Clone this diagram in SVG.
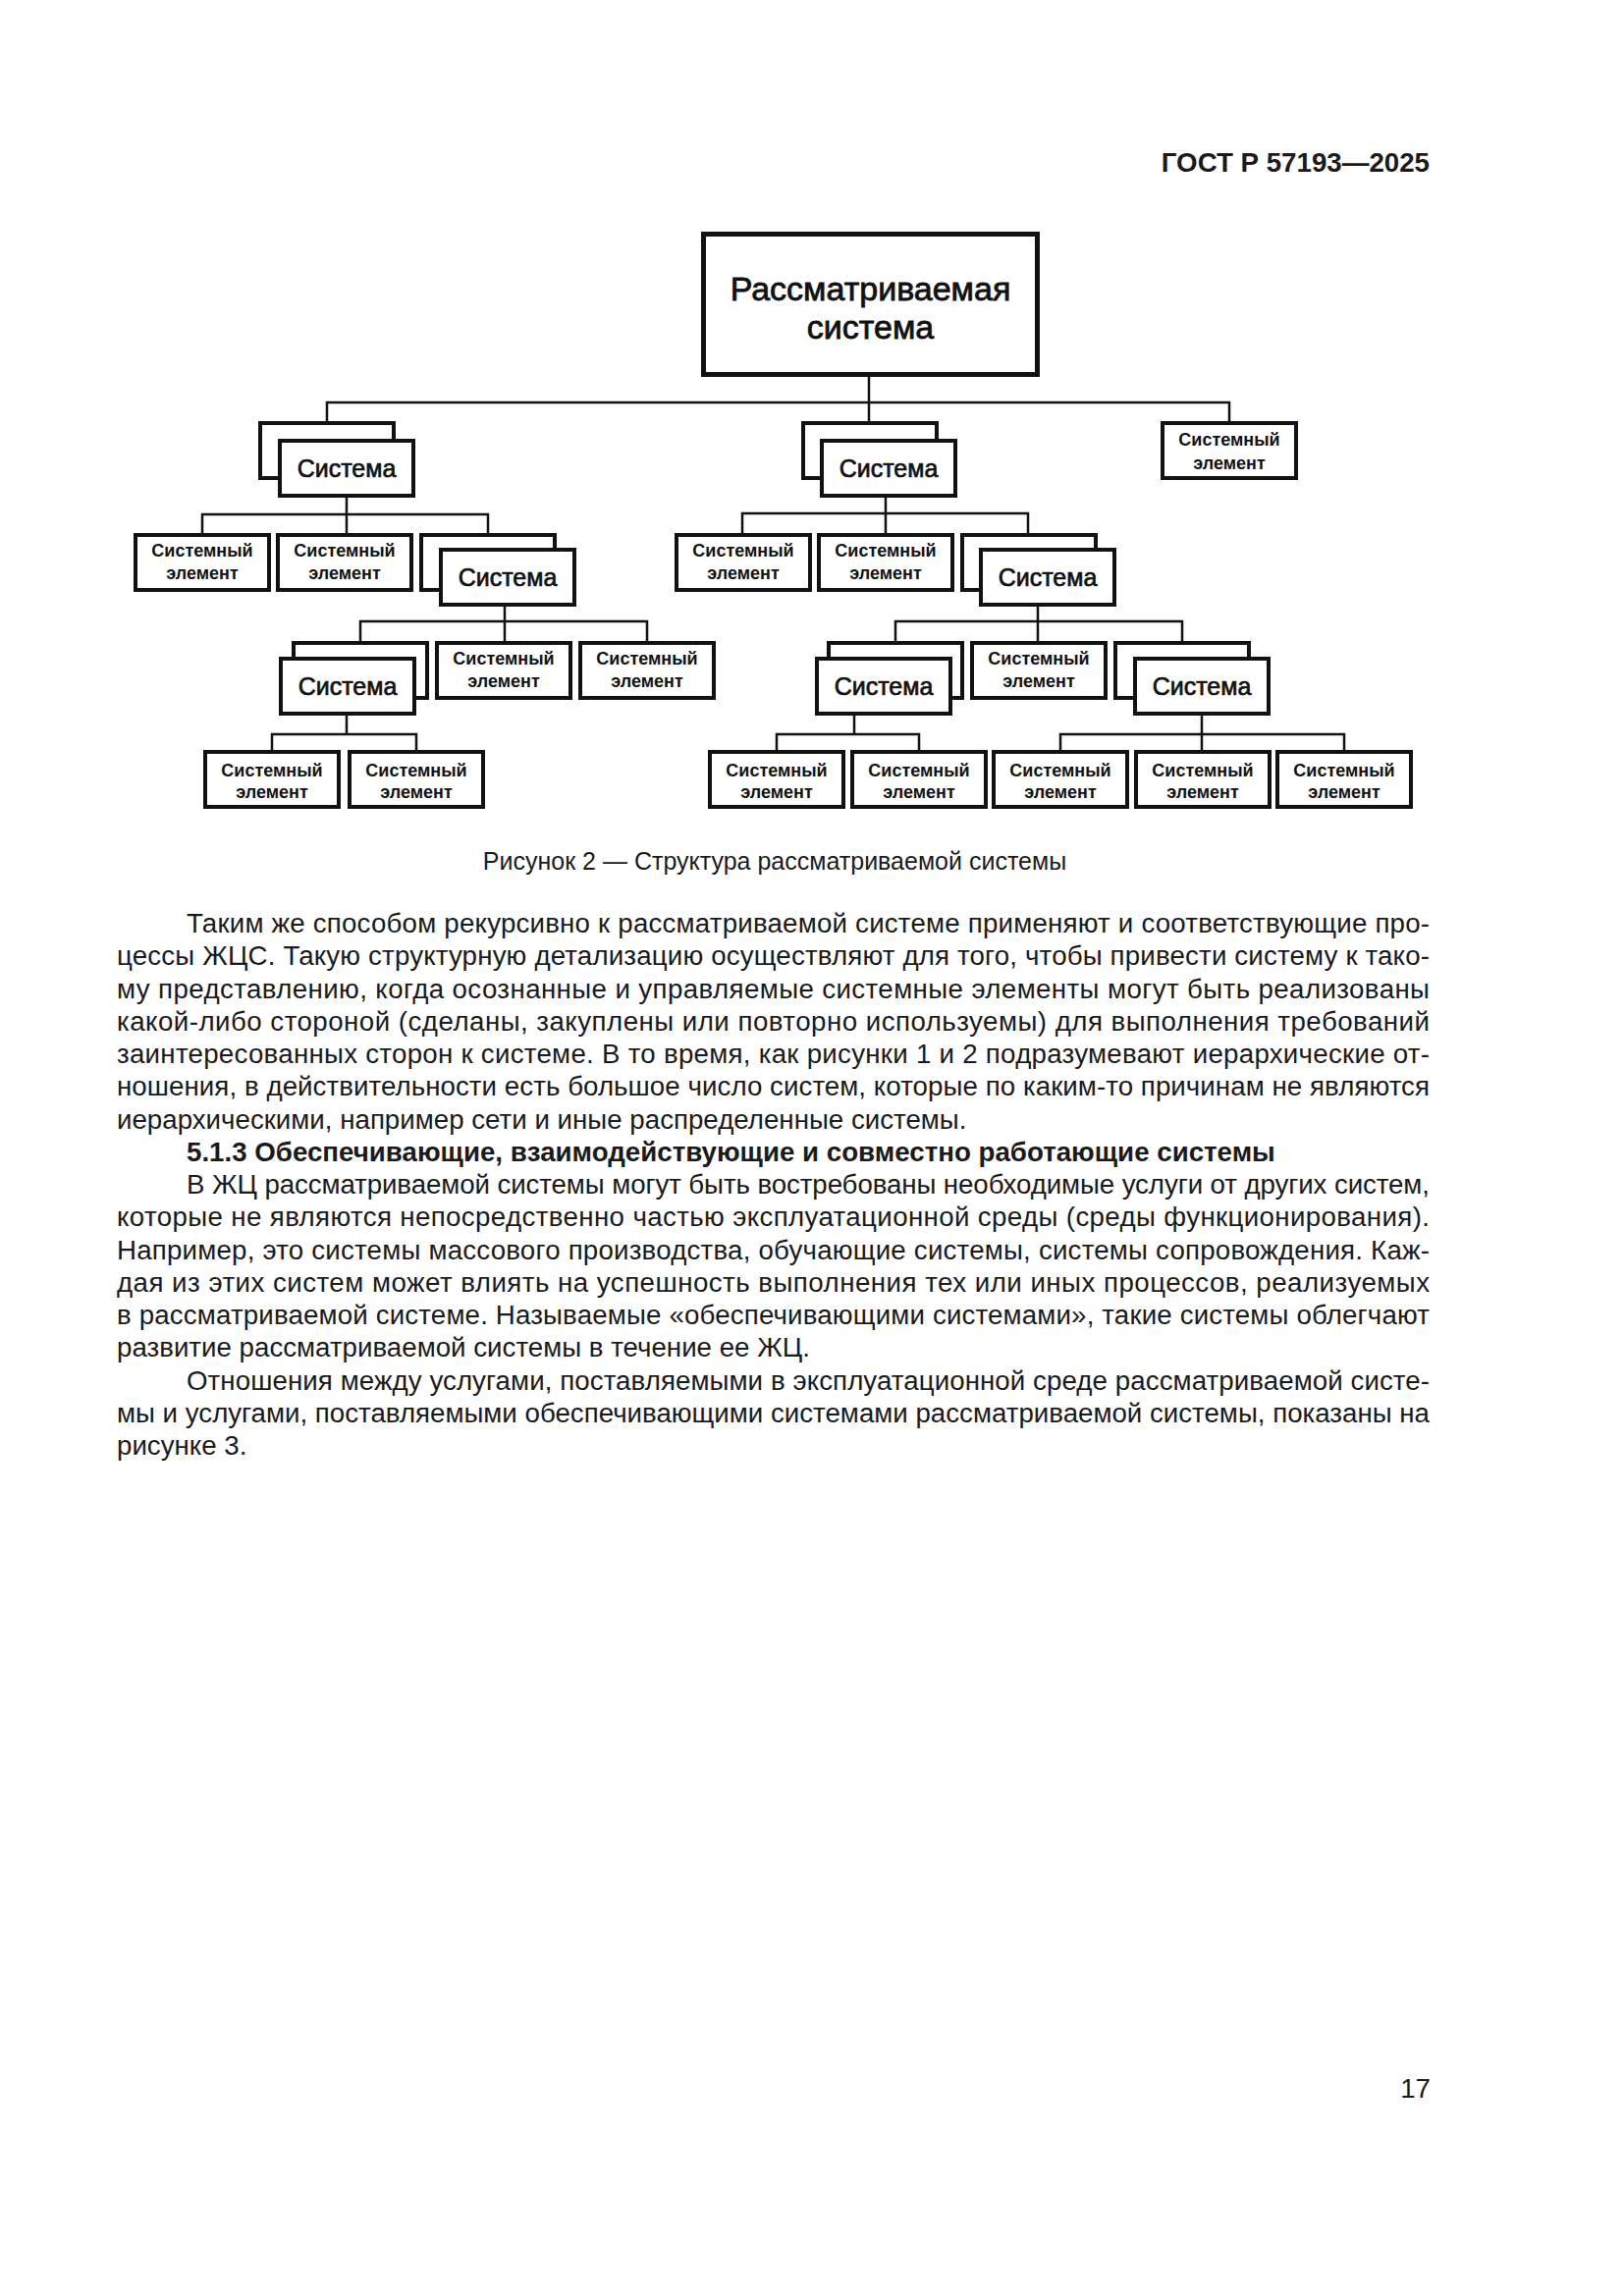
<svg xmlns="http://www.w3.org/2000/svg" width="1654" height="2339" viewBox="0 0 1654 2339">
<style>
.bg{fill:#fff}
.box{fill:#fff;stroke:#111;stroke-width:4}
.main{fill:#fff;stroke:#111;stroke-width:5}
.conn{fill:none;stroke:#111;stroke-width:2.5}
.sys{font-family:"Liberation Sans",Arial,sans-serif;font-size:25px;text-anchor:middle;fill:#111;stroke:#111;stroke-width:0.7}
.mt{font-family:"Liberation Sans",Arial,sans-serif;font-size:34px;text-anchor:middle;fill:#111;stroke:#111;stroke-width:0.8}
.el{font-family:"Liberation Sans",Arial,sans-serif;font-size:18px;font-weight:bold;text-anchor:middle;fill:#111}
.body{font-family:"Liberation Sans",Arial,sans-serif;font-size:27.7px;fill:#1a1a1a}
.bold{font-weight:bold}
.cap{font-family:"Liberation Sans",Arial,sans-serif;font-size:25px;fill:#1a1a1a;text-anchor:middle}
.hdr{font-family:"Liberation Sans",Arial,sans-serif;font-size:27.7px;font-weight:bold;fill:#1a1a1a;text-anchor:end}
</style>
<rect class="bg" x="0" y="0" width="1654" height="2339"/>
<text class="hdr" x="1456" y="175">ГОСТ Р 57193—2025</text>

<g id="connectors">
<path class="conn" d="M885,384 V410"/>
<path class="conn" d="M333,429 V410 H1252 V429"/>
<path class="conn" d="M885,410 V429"/>
<path class="conn" d="M353,506 V524"/>
<path class="conn" d="M206,543 V524 H497 V543"/>
<path class="conn" d="M353,524 V543"/>
<path class="conn" d="M902,507 V523"/>
<path class="conn" d="M756,543 V523 H1047 V543"/>
<path class="conn" d="M902,523 V543"/>
<path class="conn" d="M514,618 V633"/>
<path class="conn" d="M367,653 V633 H659 V653"/>
<path class="conn" d="M514,633 V653"/>
<path class="conn" d="M1057,618 V633"/>
<path class="conn" d="M912,653 V633 H1204 V653"/>
<path class="conn" d="M1057,633 V653"/>
<path class="conn" d="M353,729 V748"/>
<path class="conn" d="M277,764 V748 H424 V764"/>
<path class="conn" d="M870,729 V748"/>
<path class="conn" d="M791,764 V748 H936 V764"/>
<path class="conn" d="M1224,729 V748"/>
<path class="conn" d="M1080,764 V748 H1369 V764"/>
<path class="conn" d="M1224,748 V764"/>
</g>

<g id="n0"><rect class="main" x="716.5" y="238.5" width="340" height="143"/>
<text class="mt" x="886.5" y="306">Рассматриваемая</text><text class="mt" x="886.5" y="345">система</text></g>

<g id="s1"><rect class="box" x="265" y="431" width="136" height="56"/><rect class="box" x="285" y="449" width="136" height="56"/><text class="sys" x="353" y="486">Система</text></g>
<g id="s2"><rect class="box" x="818" y="431" width="136" height="56"/><rect class="box" x="837" y="449" width="136" height="56"/><text class="sys" x="905" y="486">Система</text></g>
<g id="e1"><rect class="box" x="1184" y="431" width="136" height="56"/><text class="el" x="1252" y="454">Системный</text><text class="el" x="1252" y="478">элемент</text></g>

<g id="e11"><rect class="box" x="138" y="545" width="136" height="56"/><text class="el" x="206" y="567">Системный</text><text class="el" x="206" y="590">элемент</text></g>
<g id="e12"><rect class="box" x="283" y="545" width="136" height="56"/><text class="el" x="351" y="567">Системный</text><text class="el" x="351" y="590">элемент</text></g>
<g id="s13"><rect class="box" x="429" y="545" width="136" height="56"/><rect class="box" x="449" y="560" width="136" height="56"/><text class="sys" x="517" y="597">Система</text></g>
<g id="e21"><rect class="box" x="689" y="545" width="136" height="56"/><text class="el" x="757" y="567">Системный</text><text class="el" x="757" y="590">элемент</text></g>
<g id="e22"><rect class="box" x="834" y="545" width="136" height="56"/><text class="el" x="902" y="567">Системный</text><text class="el" x="902" y="590">элемент</text></g>
<g id="s23"><rect class="box" x="980" y="545" width="136" height="56"/><rect class="box" x="999" y="560" width="136" height="56"/><text class="sys" x="1067" y="597">Система</text></g>

<g id="s131"><rect class="box" x="299" y="655" width="136" height="56"/><rect class="box" x="286" y="671" width="136" height="56"/><text class="sys" x="354" y="708">Система</text></g>
<g id="e132"><rect class="box" x="445" y="655" width="136" height="56"/><text class="el" x="513" y="677">Системный</text><text class="el" x="513" y="700">элемент</text></g>
<g id="e133"><rect class="box" x="591" y="655" width="136" height="56"/><text class="el" x="659" y="677">Системный</text><text class="el" x="659" y="700">элемент</text></g>
<g id="s231"><rect class="box" x="844" y="655" width="136" height="56"/><rect class="box" x="832" y="671" width="136" height="56"/><text class="sys" x="900" y="708">Система</text></g>
<g id="e232"><rect class="box" x="990" y="655" width="136" height="56"/><text class="el" x="1058" y="677">Системный</text><text class="el" x="1058" y="700">элемент</text></g>
<g id="s233"><rect class="box" x="1136" y="655" width="136" height="56"/><rect class="box" x="1156" y="671" width="136" height="56"/><text class="sys" x="1224" y="708">Система</text></g>

<g id="e1311"><rect class="box" x="209" y="766" width="136" height="56"/><text class="el" x="277" y="791">Системный</text><text class="el" x="277" y="813">элемент</text></g>
<g id="e1312"><rect class="box" x="356" y="766" width="136" height="56"/><text class="el" x="424" y="791">Системный</text><text class="el" x="424" y="813">элемент</text></g>
<g id="e2311"><rect class="box" x="723" y="766" width="136" height="56"/><text class="el" x="791" y="791">Системный</text><text class="el" x="791" y="813">элемент</text></g>
<g id="e2312"><rect class="box" x="868" y="766" width="136" height="56"/><text class="el" x="936" y="791">Системный</text><text class="el" x="936" y="813">элемент</text></g>
<g id="e2331"><rect class="box" x="1012" y="766" width="136" height="56"/><text class="el" x="1080" y="791">Системный</text><text class="el" x="1080" y="813">элемент</text></g>
<g id="e2332"><rect class="box" x="1157" y="766" width="136" height="56"/><text class="el" x="1225" y="791">Системный</text><text class="el" x="1225" y="813">элемент</text></g>
<g id="e2333"><rect class="box" x="1301" y="766" width="136" height="56"/><text class="el" x="1369" y="791">Системный</text><text class="el" x="1369" y="813">элемент</text></g>

<text class="cap" x="789" y="886">Рисунок 2 — Структура рассматриваемой системы</text>

<g id="body">
<text class="body" x="190" y="950" textLength="1266" lengthAdjust="spacing">Таким же способом рекурсивно к рассматриваемой системе применяют и соответствующие про-</text>
<text class="body" x="119" y="983.2" textLength="1337" lengthAdjust="spacing">цессы ЖЦС. Такую структурную детализацию осуществляют для того, чтобы привести систему к тако-</text>
<text class="body" x="119" y="1016.5" textLength="1337" lengthAdjust="spacing">му представлению, когда осознанные и управляемые системные элементы могут быть реализованы</text>
<text class="body" x="119" y="1049.7" textLength="1337" lengthAdjust="spacing">какой-либо стороной (сделаны, закуплены или повторно используемы) для выполнения требований</text>
<text class="body" x="119" y="1083" textLength="1337" lengthAdjust="spacing">заинтересованных сторон к системе. В то время, как рисунки 1 и 2 подразумевают иерархические от-</text>
<text class="body" x="119" y="1116.2" textLength="1337" lengthAdjust="spacing">ношения, в действительности есть большое число систем, которые по каким-то причинам не являются</text>
<text class="body" x="119" y="1149.5">иерархическими, например сети и иные распределенные системы.</text>
<text class="body bold" x="190" y="1182.7">5.1.3 Обеспечивающие, взаимодействующие и совместно работающие системы</text>
<text class="body" x="190" y="1216" textLength="1266" lengthAdjust="spacing">В ЖЦ рассматриваемой системы могут быть востребованы необходимые услуги от других систем,</text>
<text class="body" x="119" y="1249.2" textLength="1337" lengthAdjust="spacing">которые не являются непосредственно частью эксплуатационной среды (среды функционирования).</text>
<text class="body" x="119" y="1282.5" textLength="1337" lengthAdjust="spacing">Например, это системы массового производства, обучающие системы, системы сопровождения. Каж-</text>
<text class="body" x="119" y="1315.7" textLength="1337" lengthAdjust="spacing">дая из этих систем может влиять на успешность выполнения тех или иных процессов, реализуемых</text>
<text class="body" x="119" y="1349" textLength="1337" lengthAdjust="spacing">в рассматриваемой системе. Называемые «обеспечивающими системами», такие системы облегчают</text>
<text class="body" x="119" y="1382.2">развитие рассматриваемой системы в течение ее ЖЦ.</text>
<text class="body" x="190" y="1415.5" textLength="1266" lengthAdjust="spacing">Отношения между услугами, поставляемыми в эксплуатационной среде рассматриваемой систе-</text>
<text class="body" x="119" y="1448.7" textLength="1337" lengthAdjust="spacing">мы и услугами, поставляемыми обеспечивающими системами рассматриваемой системы, показаны на</text>
<text class="body" x="119" y="1482">рисунке 3.</text>
</g>

<text class="hdr" x="1457" y="2137" style="font-weight:normal">17</text>
</svg>
